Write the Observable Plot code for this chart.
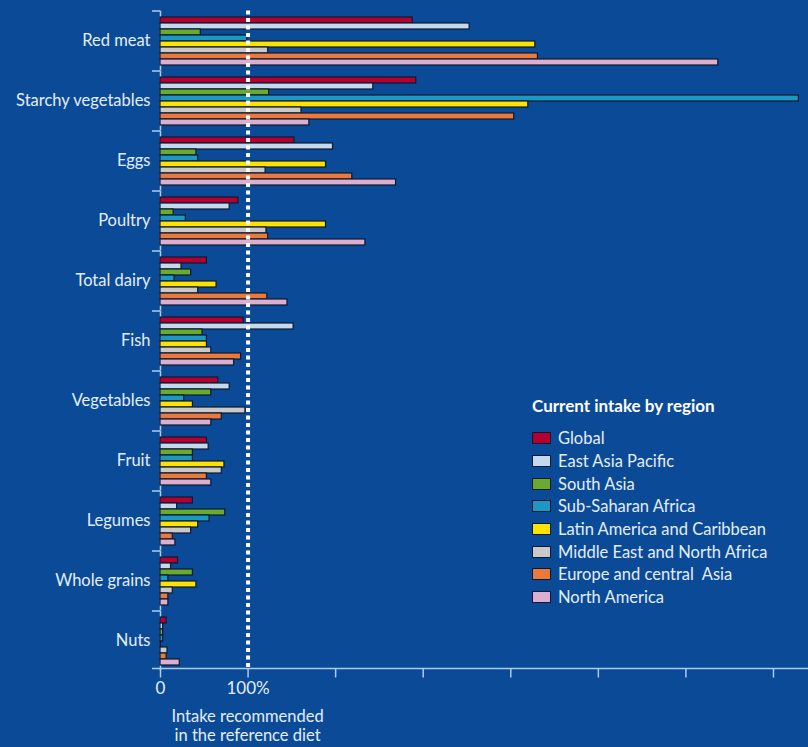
<!DOCTYPE html>
<html><head><meta charset="utf-8">
<script src="https://cdn.jsdelivr.net/npm/d3@7"></script>
<script src="https://cdn.jsdelivr.net/npm/@observablehq/plot@0.6"></script>
<style>
html,body{margin:0;padding:0;background:#0b4a96;}
#wrap{position:relative;width:808px;height:747px;background:#0b4a96;font-family:Lato,sans-serif;color:#e3eefa;overflow:hidden}
#legend{position:absolute;left:532px;top:394px}
.lt{font-weight:bold;font-size:17px;color:#fff;height:24px;line-height:24px;margin-bottom:9px}
.li{display:flex;align-items:center;height:22.7px;font-size:16.5px;white-space:nowrap}
.sw{width:17px;height:10px;border:1.5px solid #0a1a33;margin-right:7px;flex:none}
#note{position:absolute;text-align:center;font-size:16.5px;line-height:19px;top:707px;transform:translateX(-50%);white-space:nowrap}
</style></head>
<body><div id="wrap"></div>
<script>
const categories = ["Red meat","Starchy vegetables","Eggs","Poultry","Total dairy","Fish","Vegetables","Fruit","Legumes","Whole grains","Nuts"];
const regions = ["Global","East Asia Pacific","South Asia","Sub-Saharan Africa","Latin America and Caribbean","Middle East and North Africa","Europe and central  Asia","North America"];
const regionColors = ["#b5002f","#c5d9ee","#6aab2e","#1c98c4","#ffe300","#c9c9c9","#ea7a3c","#dcaed0"];
// % of intake recommended in the reference diet, in region order
const redMeat = [288,353,46,99,428,123,431,637];
const starchyVegetables = [292,243,124,729,420,161,404,170];
const eggs = [153,197,41,43,189,120,219,269];
const poultry = [89,79,15,29,189,121,123,234];
const totalDairy = [53,24,35,16,64,43,122,145];
const fish = [95,152,48,53,53,58,92,84];
const vegetables = [66,79,58,27,37,97,70,58];
const fruit = [53,55,37,37,73,70,53,58];
const legumes = [37,19,74,56,43,35,14,17];
const wholeGrains = [20,12,37,9,41,14,9,9];
const nuts = [7,3,3,3,1,8,7,22];
const xTicks = [0,100,200,300,400,500,600,700];
const xTickLabels = ["0","100%","","","","","",""];
const legendTitle = "Current intake by region";
const noteText = ["Intake recommended","in the reference diet"];

const seriesByCategory = [redMeat,starchyVegetables,eggs,poultry,totalDairy,fish,vegetables,fruit,legumes,wholeGrains,nuts];
const rows = [];
categories.forEach((c, ci) => regions.forEach((r, ri) => rows.push({category: c, region: r, value: seriesByCategory[ci][ri]})));

const axisColor = "#a9cdf0";
const textColor = "#e3eefa";

const plot = Plot.plot({
  width: 808, height: 747,
  marginLeft: 160, marginRight: 0, marginTop: 11, marginBottom: 76,
  style: {background: "transparent", color: textColor, fontFamily: "Lato, sans-serif", fontSize: "16.5px", overflow: "visible"},
  x: {domain: [0, 740], axis: null},
  y: {domain: regions, padding: 0.04, axis: null},
  fy: {domain: categories, paddingInner: 0.18, paddingOuter: 0.09, axis: null, label: null},
  color: {domain: regions, range: regionColors},
  marks: [
    Plot.ruleX([0], {stroke: axisColor, strokeWidth: 1.5, insetTop: -5.4, insetBottom: -5.4}),
    Plot.barX(rows, {x: "value", y: "region", fy: "category", fill: "region", stroke: "#0a1a33", strokeWidth: 1.2}),
    Plot.ruleX([100], {stroke: "white", strokeWidth: 4, strokeDasharray: "4,3.5", insetTop: -5.4, insetBottom: -5.4}),
    Plot.axisFy({anchor: "left", tickSize: 0, tickPadding: 10, label: null, fill: textColor, fontSize: 16.5}),
    Plot.axisFy({anchor: "left", tickSize: 8, dy: -30, fill: "none", stroke: axisColor, strokeWidth: 1.5, label: null}),
    Plot.axisX({ticks: xTicks, tickFormat: d => xTickLabels[xTicks.indexOf(d)], tickSize: 9, dy: 3.5, tickPadding: 4, stroke: axisColor, strokeWidth: 1.5, fill: textColor, fontSize: 17, label: null})
  ]
});

const wrap = document.getElementById("wrap");
wrap.appendChild(plot);

// bottom axis baseline, positioned from the library scales
const xs = plot.scale("x"), fys = plot.scale("fy");
const baseY = fys.apply(categories[categories.length - 1]) + fys.bandwidth + 3.5;
d3.select(plot).append("line")
  .attr("x1", xs.apply(0) - 8).attr("x2", 808)
  .attr("y1", baseY).attr("y2", baseY)
  .attr("stroke", axisColor).attr("stroke-width", 1.5);

// legend
const lg = document.createElement("div");
lg.id = "legend";
lg.innerHTML = `<div class="lt">${legendTitle}</div>` +
  regions.map((r, i) => `<div class="li"><span class="sw" style="background:${regionColors[i]}"></span>${r.replace(/  /g, " &nbsp;")}</div>`).join("");
wrap.appendChild(lg);

// note under the 100% mark
const note = document.createElement("div");
note.id = "note";
note.style.left = xs.apply(100) + "px";
note.innerHTML = noteText.join("<br>");
wrap.appendChild(note);
</script>
</body></html>
